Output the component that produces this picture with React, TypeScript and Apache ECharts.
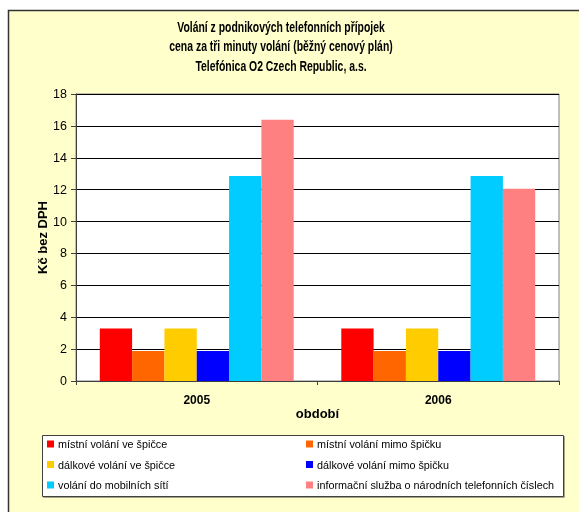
import React, { useEffect, useRef } from "react";
import * as echarts from "echarts";

const categories = ["2005", "2006"];
const seriesNames = [
  "místní volání ve špičce",
  "místní volání mimo špičku",
  "dálkové volání ve špičce",
  "dálkové volání mimo špičku",
  "volání do mobilních sítí",
  "informační služba o národních telefonních číslech",
];
const localPeak = [3.3, 3.3];
const localOffPeak = [1.88, 1.88];
const longPeak = [3.3, 3.3];
const longOffPeak = [1.88, 1.88];
const mobile = [12.85, 12.85];
const infoService = [16.38, 12.05];
const seriesValues = [localPeak, localOffPeak, longPeak, longOffPeak, mobile, infoService];
const colors = ["#FF0000", "#FF6600", "#FFCC00", "#0000FF", "#00CCFF", "#FF8080"];
const yTicks = { min: 0, max: 18, interval: 2 };
const titleLines = [
  "Volání z podnikových telefonních přípojek",
  "cena za tři minuty volání (běžný cenový plán)",
  "Telefónica O2 Czech Republic, a.s.",
];

const FONT = '"Liberation Sans", Arial, sans-serif';

export default function App() {
  const ref = useRef<HTMLDivElement>(null);
  useEffect(() => {
    if (!ref.current) return;
    const chart = echarts.init(ref.current, null, { renderer: "svg" });
    chart.setOption({
      animation: false,
      textStyle: { fontFamily: FONT },
      graphic: [
        {
          type: "rect",
          z: -10,
          silent: true,
          shape: { x: 8.5, y: 10.5, width: 600, height: 600 },
          style: { fill: "#FFFFCC", stroke: "#333333", lineWidth: 1.5 },
        },
        {
          type: "rect",
          z: -5,
          silent: true,
          shape: { x: 42.5, y: 435.5, width: 521, height: 61 },
          style: { fill: "#FFFFFF", stroke: "#404040", lineWidth: 1, shadowColor: "rgba(0,0,0,0.35)", shadowOffsetX: 1, shadowOffsetY: 1, shadowBlur: 1 },
        },
        ...titleLines.map((t, i) => ({
          type: "text",
          x: 281,
          y: 27 + i * 19.5,
          scaleX: 0.745,
          style: {
            text: t,
            fontFamily: FONT,
            fontSize: 14,
            fontWeight: "bold",
            fill: "#000",
            textAlign: "center",
            textVerticalAlign: "middle",
          },
        })),
      ],
      legend: [
        {
          orient: "vertical",
          left: 47,
          top: 437.5,
          padding: 0,
          itemWidth: 7,
          itemHeight: 7,
          itemGap: 7.5,
          icon: "rect",
          data: [seriesNames[0], seriesNames[2], seriesNames[4]],
          textStyle: { fontFamily: FONT, fontSize: 10.8, color: "#000", lineHeight: 13, padding: [0, 0, 0, -1] },
        },
        {
          orient: "vertical",
          left: 306,
          top: 437.5,
          padding: 0,
          itemWidth: 7,
          itemHeight: 7,
          itemGap: 7.5,
          icon: "rect",
          data: [seriesNames[1], seriesNames[3], seriesNames[5]],
          textStyle: { fontFamily: FONT, fontSize: 10.8, color: "#000", lineHeight: 13, padding: [0, 0, 0, -1] },
        },
      ],
      grid: {
        left: 76,
        right: 20,
        top: 94,
        bottom: 131,
        show: true,
        backgroundColor: "#FFFFFF",
        borderColor: "#808080",
        borderWidth: 1,
      },
      xAxis: {
        type: "category",
        data: categories,
        axisLine: { lineStyle: { color: "#404040", width: 1 } },
        axisTick: { show: true, length: 4, lineStyle: { color: "#404040" } },
        axisLabel: { fontFamily: FONT, fontSize: 12, fontWeight: "bold", color: "#000", margin: 13 },
        name: "období",
        nameLocation: "middle",
        nameGap: 26,
        nameMoveOverlap: false,
        nameTextStyle: { fontFamily: FONT, fontSize: 13, fontWeight: "bold", color: "#000" },
      },
      yAxis: {
        type: "value",
        min: yTicks.min,
        max: yTicks.max,
        interval: yTicks.interval,
        axisLine: { show: true, lineStyle: { color: "#404040", width: 1 } },
        axisTick: { show: true, length: 5, lineStyle: { color: "#404040" } },
        axisLabel: { fontFamily: FONT, fontSize: 12.5, color: "#000", margin: 9 },
        splitLine: { show: true, lineStyle: { color: "#000000", width: 1 } },
        name: "Kč bez DPH",
        nameLocation: "middle",
        nameGap: 27,
        nameMoveOverlap: false,
        nameTextStyle: { fontFamily: FONT, fontSize: 13, fontWeight: "bold", color: "#000" },
      },
      series: seriesNames.map((name, i) => ({
        name,
        type: "bar",
        data: seriesValues[i],
        barGap: "0%",
        barCategoryGap: "19.7%",
        itemStyle: { color: colors[i] },
      })),
    });
    return () => chart.dispose();
  }, []);
  return (
    <div
      ref={ref}
      style={{ position: "fixed", left: 0, top: 0, width: 579, height: 512 }}
    />
  );
}
